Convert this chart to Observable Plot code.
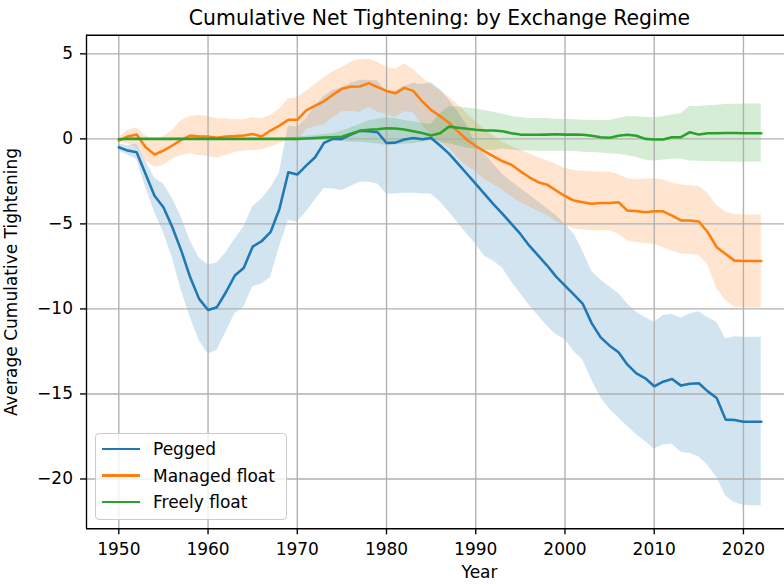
<!DOCTYPE html>
<html>
<head>
<meta charset="utf-8">
<script src="https://cdn.jsdelivr.net/npm/d3@7"></script>
<script src="https://cdn.jsdelivr.net/npm/@observablehq/plot@0.6"></script>
<style>
  html, body { margin: 0; padding: 0; background: white; }
  body { width: 784px; height: 587px; overflow: hidden; position: relative; font-family: "DejaVu Sans", sans-serif; color: black; }
  #title { position: absolute; top: 3px; left: 0; width: 879px; text-align: center; font-size: 20.4px; line-height: 30px; white-space: nowrap; }
  #chart { position: absolute; top: 30px; left: 0; }
  #legend { position: absolute; left: 95px; top: 433px; width: 190px; height: 85px; border: 1px solid #cccccc; border-radius: 4px; background: rgba(255,255,255,0.8); }
  .lrow { position: absolute; left: 0; height: 20px; width: 190px; }
  .lline { position: absolute; left: 6px; width: 38px; height: 2.6px; }
  .ltext { position: absolute; left: 57px; font-size: 17px; line-height: 20px; white-space: nowrap; }
</style>
</head>
<body>
<div id="title">Cumulative Net Tightening: by Exchange Regime</div>
<div id="chart"></div>
<div id="legend"></div>
<script>
// ---------- data ----------
const years = [1950,1951,1952,1953,1954,1955,1956,1957,1958,1959,
  1960,1961,1962,1963,1964,1965,1966,1967,1968,1969,
  1970,1971,1972,1973,1974,1975,1976,1977,1978,1979,
  1980,1981,1982,1983,1984,1985,1986,1987,1988,1989,
  1990,1991,1992,1993,1994,1995,1996,1997,1998,1999,
  2000,2001,2002,2003,2004,2005,2006,2007,2008,2009,
  2010,2011,2012,2013,2014,2015,2016,2017,2018,2019,
  2020,2021,2022];

const regimes = ["Pegged", "Managed float", "Freely float"];
const colors = ["#1f77b4", "#ff7f0e", "#2ca02c"];

const pegged = [-0.49,-0.69,-0.79,-2.06,-3.34,-4.02,-5.2,-6.57,-8.14,-9.41,
  -10.06,-9.9,-9.02,-8.04,-7.59,-6.34,-6.02,-5.49,-4.12,-1.96,
  -2.1,-1.57,-1.08,-0.24,0.0,0.0,0.25,0.47,0.45,0.39,
  -0.24,-0.22,-0.04,0.05,-0.02,0.05,-0.39,-0.87,-1.45,-2.05,
  -2.65,-3.25,-3.85,-4.41,-5.0,-5.59,-6.28,-6.86,-7.45,-8.1,
  -8.63,-9.16,-9.71,-10.85,-11.67,-12.16,-12.55,-13.28,-13.79,-14.08,
  -14.55,-14.28,-14.12,-14.51,-14.4,-14.37,-14.85,-15.24,-16.51,-16.53,
  -16.63,-16.63,-16.63];
const peggedLo = [-0.7,-0.95,-1.2,-2.85,-4.3,-5.5,-7.0,-8.9,-10.5,-11.86,
  -12.65,-12.45,-11.37,-10.29,-9.9,-8.69,-8.53,-8.14,-6.37,-4.8,
  -4.9,-4.3,-3.6,-2.94,-2.94,-3.04,-2.8,-2.55,-2.55,-2.65,
  -3.24,-3.24,-3.2,-3.2,-3.24,-3.24,-3.7,-4.3,-4.95,-5.6,
  -6.2,-6.9,-7.2,-7.6,-8.4,-9.1,-9.8,-10.4,-11.0,-11.5,
  -11.8,-12.5,-13.0,-14.2,-15.2,-15.9,-16.4,-16.9,-17.4,-17.8,
  -18.24,-18.0,-17.94,-18.43,-18.5,-18.7,-19.2,-19.9,-21.0,-21.4,
  -21.55,-21.57,-21.57];
const peggedHi = [-0.3,-0.4,-0.3,-1.3,-2.3,-2.65,-3.5,-4.6,-6.0,-7.0,
  -7.4,-7.3,-6.7,-5.9,-5.2,-4.0,-3.55,-2.9,-2.0,0.75,
  0.7,1.18,1.9,2.5,2.85,3.0,3.25,3.45,3.45,3.4,
  2.8,2.8,3.1,3.25,3.2,3.3,2.9,2.3,1.6,0.8,
  -0.3,-0.9,-1.5,-2.1,-2.5,-2.9,-3.3,-3.7,-4.1,-4.5,
  -5.0,-5.6,-6.6,-7.8,-8.3,-8.7,-9.1,-9.7,-10.2,-10.5,
  -10.79,-10.39,-10.33,-10.53,-10.3,-10.16,-10.5,-10.79,-11.76,-11.63,
  -11.67,-11.67,-11.67];

const managed = [-0.1,0.14,0.25,-0.49,-0.92,-0.69,-0.39,-0.06,0.19,0.14,
  0.14,0.06,0.14,0.16,0.2,0.29,0.14,0.49,0.78,1.12,
  1.12,1.67,1.96,2.21,2.6,2.94,3.06,3.08,3.28,3.04,
  2.82,2.68,3.0,2.82,2.2,1.7,1.34,0.95,0.44,-0.05,
  -0.42,-0.74,-1.03,-1.32,-1.52,-1.91,-2.26,-2.55,-2.69,-3.04,
  -3.36,-3.63,-3.73,-3.82,-3.77,-3.77,-3.73,-4.22,-4.24,-4.32,
  -4.26,-4.26,-4.51,-4.8,-4.8,-4.86,-5.49,-6.37,-6.77,-7.16,
  -7.18,-7.18,-7.18];
const managedLo = [-0.2,-0.29,-0.49,-1.28,-1.67,-1.57,-1.18,-0.98,-0.88,-0.98,
  -1.04,-1.12,-0.98,-0.79,-0.73,-0.69,-0.65,-0.49,-0.29,-0.1,
  -0.16,0.54,0.72,0.82,1.25,1.6,1.62,1.55,1.86,1.58,
  1.44,1.26,1.6,1.54,0.8,0.2,-0.17,-0.55,-1.12,-1.6,
  -1.9,-2.4,-2.7,-3.0,-3.4,-3.75,-4.0,-4.25,-4.5,-4.85,
  -5.1,-5.3,-5.35,-5.4,-5.4,-5.4,-5.6,-6.0,-6.1,-6.15,
  -6.2,-6.4,-6.6,-6.77,-6.8,-6.85,-7.4,-8.8,-9.5,-9.9,
  -9.94,-9.94,-9.94];
const managedHi = [0.1,0.49,0.65,0.19,-0.1,0.14,0.49,1.08,1.31,1.37,
  1.31,1.18,1.18,1.12,1.12,1.24,1.18,1.37,1.76,2.35,
  2.4,2.8,3.2,3.6,3.95,4.2,4.5,4.65,4.7,4.5,
  4.2,4.1,4.4,4.1,3.6,3.2,2.85,2.45,2.0,1.5,
  1.0,0.55,0.15,-0.2,-0.45,-0.65,-0.88,-1.1,-1.3,-1.5,
  -1.75,-1.86,-1.9,-1.93,-1.95,-1.96,-2.1,-2.35,-2.4,-2.38,
  -2.35,-2.4,-2.6,-2.72,-2.75,-2.8,-3.2,-3.92,-4.3,-4.45,
  -4.47,-4.47,-4.47];

const freely = [-0.02,0.0,0.0,0.0,0.0,0.0,0.0,0.0,0.0,0.0,
  0.0,0.0,0.0,0.0,0.0,0.0,0.0,0.0,0.0,0.0,
  0.0,0.02,0.05,0.08,0.1,0.12,0.3,0.47,0.53,0.57,
  0.63,0.61,0.55,0.45,0.35,0.2,0.33,0.72,0.65,0.59,
  0.53,0.49,0.49,0.45,0.33,0.25,0.24,0.24,0.25,0.27,
  0.25,0.25,0.24,0.18,0.1,0.06,0.18,0.24,0.18,0.0,
  -0.04,-0.04,0.1,0.1,0.39,0.25,0.33,0.33,0.35,0.35,
  0.33,0.33,0.33];
const freelyLo = [-0.05,-0.03,-0.03,-0.03,-0.03,-0.03,-0.03,-0.03,-0.03,-0.03,
  -0.03,-0.03,-0.03,-0.03,-0.03,-0.03,-0.03,-0.03,-0.03,-0.05,
  -0.1,-0.1,-0.1,-0.1,-0.1,-0.15,-0.2,-0.2,-0.25,-0.3,
  -0.39,-0.35,-0.3,-0.29,-0.2,-0.1,-0.2,-0.29,-0.4,-0.53,
  -0.6,-0.65,-0.69,-0.6,-0.65,-0.7,-0.72,-0.73,-0.73,-0.73,
  -0.73,-0.75,-0.78,-0.8,-0.83,-0.88,-0.9,-0.98,-1.1,-1.25,
  -1.32,-1.25,-1.2,-1.18,-1.3,-1.32,-1.35,-1.35,-1.37,-1.37,
  -1.37,-1.37,-1.37];
const freelyHi = [0.01,0.03,0.03,0.03,0.03,0.03,0.03,0.03,0.03,0.03,
  0.03,0.03,0.03,0.03,0.03,0.03,0.03,0.03,0.03,0.05,
  0.1,0.15,0.2,0.25,0.3,0.45,0.65,0.85,1.05,1.15,
  1.24,1.2,1.08,1.0,0.92,0.84,1.47,1.9,1.88,1.82,
  1.75,1.65,1.57,1.45,1.31,1.25,1.2,1.2,1.2,1.15,
  1.15,1.12,1.1,1.1,1.08,1.08,1.2,1.31,1.3,1.25,
  1.24,1.3,1.4,1.47,1.9,1.9,1.95,1.97,2.02,2.03,
  2.05,2.05,2.05];

const xTicks = [1950,1960,1970,1980,1990,2000,2010,2020];
const yTicks = [-20,-15,-10,-5,0,5];
const xDomain = [1946.38, 2024.6];
const yDomain = [-22.93, 6.09];

// ---------- build tables ----------
const seriesValues = [pegged, managed, freely];
const seriesLo = [peggedLo, managedLo, freelyLo];
const seriesHi = [peggedHi, managedHi, freelyHi];
const rows = [];
regimes.forEach((r, k) => {
  years.forEach((year, i) => {
    rows.push({regime: r, year, value: seriesValues[k][i], lo: seriesLo[k][i], hi: seriesHi[k][i]});
  });
});
const rowsOf = r => rows.filter(d => d.regime === r);

const minus = d => (d < 0 ? "\u2212" + Math.abs(d) : String(d));
const gridStyle = {stroke: "#b0b0b0", strokeOpacity: 1, strokeWidth: 1.36};

const marks = [];
regimes.forEach((r, k) => {
  marks.push(Plot.areaY(rowsOf(r), {x: "year", y1: "lo", y2: "hi", fill: colors[k], fillOpacity: 0.2}));
});
marks.push(Plot.gridX(xTicks, gridStyle));
marks.push(Plot.gridY(yTicks, gridStyle));
regimes.forEach((r, k) => {
  marks.push(Plot.lineY(rowsOf(r), {x: "year", y: "value", stroke: colors[k], strokeWidth: 2.55}));
});
marks.push(Plot.axisX(xTicks, {tickSize: 6, tickPadding: 8.5, strokeWidth: 1.36, tickFormat: d => String(d), label: null, fontSize: 17}));
marks.push(Plot.axisY(yTicks, {tickSize: 6, tickPadding: 7.5, strokeWidth: 1.36, tickFormat: minus, label: null, fontSize: 17}));
marks.push(Plot.ruleX([xDomain[0]], {stroke: "black", strokeWidth: 1.36}));
marks.push(Plot.ruleY(yDomain, {stroke: "black", strokeWidth: 1.36}));
marks.push(Plot.text(["Average Cumulative Tightening"], {text: d => d, frameAnchor: "left", rotate: -90, dx: -74.5, fontSize: 17, textAnchor: "middle", lineAnchor: "middle", fill: "black"}));
marks.push(Plot.text(["Year"], {text: d => d, frameAnchor: "bottom", dy: 49.5, fontSize: 17, lineAnchor: "bottom", textAnchor: "middle", fill: "black", dx: 44}));

const chart = Plot.plot({
  width: 784,
  height: 557,
  marginTop: 4.8,
  marginBottom: 58.7,
  marginLeft: 86,
  marginRight: 0,
  x: {domain: xDomain},
  y: {domain: yDomain},
  style: {fontFamily: "DejaVu Sans", fontSize: "17px", color: "black", background: "white", overflow: "visible"},
  marks
});
document.getElementById("chart").appendChild(chart);

// ---------- legend ----------
const legend = document.getElementById("legend");
const rowTops = [15, 41.5, 68]; // row centers relative to box
regimes.forEach((r, k) => {
  const row = document.createElement("div");
  row.className = "lrow";
  row.style.top = (rowTops[k] - 10) + "px";
  const line = document.createElement("div");
  line.className = "lline";
  line.style.top = "8.7px";
  line.style.background = colors[k];
  const txt = document.createElement("div");
  txt.className = "ltext";
  txt.style.top = "0px";
  txt.textContent = r;
  row.appendChild(line);
  row.appendChild(txt);
  legend.appendChild(row);
});
</script>
</body>
</html>
